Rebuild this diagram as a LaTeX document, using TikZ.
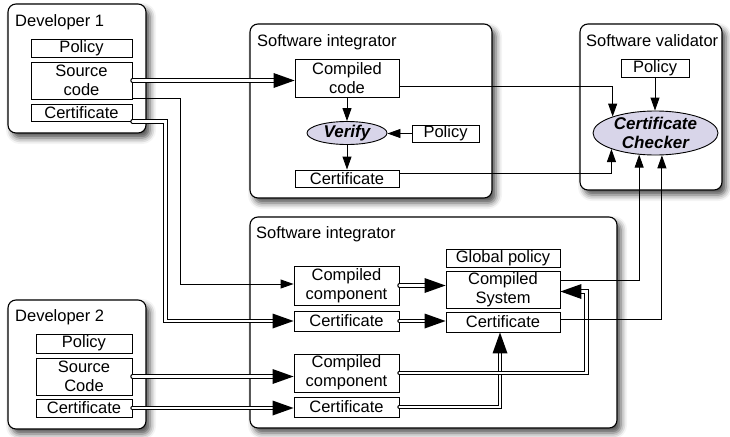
\documentclass[tikz,border=0pt]{standalone}
\usepackage{fontspec}
\setmainfont{Liberation Sans}
\usetikzlibrary{arrows.meta,shapes.geometric,shadows.blur,calc,decorations.markings}
\definecolor{lav}{RGB}{216,213,233}

\tikzset{
  panel/.style={draw=black, line width=1.1pt, rounded corners=8pt, fill=white, inner sep=0pt,
    blur shadow={shadow xshift=4pt, shadow yshift=-5pt, shadow blur radius=6pt, shadow opacity=70}},
  paneltitle/.style={anchor=base west, inner sep=0pt, font=\fontsize{16.5}{19}\selectfont},
  item/.style={draw=black, line width=0.9pt, fill=white, inner sep=0pt, align=center,
    font=\fontsize{16.5}{19}\selectfont},
  oval/.style={ellipse, draw=black, line width=0.9pt, fill=lav, inner xsep=0pt, inner ysep=-3pt,
    align=center, font=\fontsize{17}{19}\selectfont\bfseries\itshape},
  arr/.style={draw=black, line width=0.9pt, -{Triangle[length=13pt,width=9pt]}},
  % hollow double line whose solid head is placed at the path end
  darr/.style={draw=black, line width=1.1pt, double=white, double distance=2.2pt,
    line cap=round, shorten >=19pt,
    postaction={decorate, decoration={markings, mark=at position 1 with
      {\fill[black] (0pt,0pt) -- (-21pt,7.5pt) -- (-21pt,-7.5pt) -- cycle;}}}},
}

\begin{document}
\begin{tikzpicture}[x=1pt,y=-1pt]
\useasboundingbox (0,0) rectangle (730,436);

% containers
\node[panel, minimum width=138pt, minimum height=129pt] (dev1) at (77,68.5) {};
\node[panel, minimum width=242pt, minimum height=174pt] (ti) at (371,111) {};
\node[panel, minimum width=142pt, minimum height=166pt] (val) at (651,107) {};
\node[panel, minimum width=367pt, minimum height=211pt] (li) at (433.5,322.5) {};
\node[panel, minimum width=138pt, minimum height=129pt] (dev2) at (77,364.5) {};

\node[paneltitle] (dev1t) at (15,27) {Developer 1};
\node[paneltitle] (tit) at (257,47) {Software integrator};
\node[paneltitle] (valt) at (586,46) {Software validator};
\node[paneltitle] (lit) at (256,238) {Software integrator};
\node[paneltitle] (dev2t) at (15,321) {Developer 2};

% developer 1
\node[item, minimum width=101pt, minimum height=18pt] (d1pol) at (81.5,48) {Policy};
\node[item, minimum width=101pt, minimum height=37pt] (d1src) at (81.5,80.5) {Source\\code};
\node[item, minimum width=101pt, minimum height=17pt] (d1cert) at (81.5,112.5) {Certificate};

% upper integrator
\node[item, minimum width=104pt, minimum height=38pt] (ti_cc) at (347,78) {Compiled\\code};
\node[oval, minimum width=80pt, minimum height=23pt] (ti_ver) at (347,133) {Verify};
\node[item, minimum width=67pt, minimum height=17pt] (ti_pol) at (445.5,133.5) {Policy};
\node[item, minimum width=104pt, minimum height=17pt] (ti_cert) at (347,178.5) {Certificate};

% validator
\node[item, minimum width=68pt, minimum height=18pt] (v_pol) at (655,68) {Policy};
\node[oval, minimum width=125pt, minimum height=44pt] (v_chk) at (655.5,133) {Certificate\\Checker};

% lower integrator
\node[item, minimum width=105pt, minimum height=39pt] (li_cc1) at (346.5,285.5) {Compiled\\component};
\node[item, minimum width=105pt, minimum height=20pt] (li_c1) at (346.5,321) {Certificate};
\node[item, minimum width=105pt, minimum height=38pt] (li_cc2) at (346.5,373) {Compiled\\component};
\node[item, minimum width=105pt, minimum height=20pt] (li_c2) at (346.5,407) {Certificate};
\node[item, minimum width=114pt, minimum height=18pt] (li_gp) at (503,258) {Global policy};
\node[item, minimum width=114pt, minimum height=37pt] (li_cs) at (503,289.5) {Compiled\\System};
\node[item, minimum width=114pt, minimum height=20pt] (li_cert) at (503,322) {Certificate};

% developer 2
\node[item, minimum width=96pt, minimum height=19pt] (d2pol) at (84,343.5) {Policy};
\node[item, minimum width=96pt, minimum height=37pt] (d2src) at (84,376.5) {Source\\Code};
\node[item, minimum width=96pt, minimum height=18pt] (d2cert) at (84,408) {Certificate};

% developer 1 outputs
\draw[darr] (d1src.east) -- (d1src.east -| ti_cc.west);
\draw[arr] ($(d1src.south east)+(0,-1.5)$) -- ++(48,0) |- ($(li_cc1.west)+(0,-1.5)$);
\draw[darr] (d1cert.south east) -- ++(33,0) |- (li_c1.west);

% upper integrator flow
\draw[arr] (ti_cc) -- (ti_ver);
\draw[arr] (ti_pol.west) -- (ti_pol.west -| ti_ver.east);
\draw[arr] (ti_ver) -- (ti_cert);

% developer 2 outputs
\draw[darr] (d2src.east) -- (d2src.east -| li_cc2.west);
\draw[darr] (d2cert.east) -- (d2cert.east -| li_c2.west);

% lower integrator flow
\draw[darr] (li_cc1.east) -- (li_cc1.east -| li_cs.west);
\draw[darr] (li_c1.east) -- (li_c1.east -| li_cert.west);
\draw[darr] (li_c2.east) -| ($(li_cert.south)+(-3,0)$);
\draw[darr] (li_cc2.east) -- ++(187,0) |- ($(li_cs.east)+(0,2)$);

% into the certificate checker
\draw[arr] (v_pol.south) -- (v_pol.south |- v_chk.north);
\draw[arr] ($(ti_cc.east)+(0,8)$) -| (v_chk.159.25);
\draw[arr] ($(ti_cert.east)+(0,-5.5)$) -| (v_chk.200.75);
\draw[arr] ($(li_cs.east)+(0,-9.5)$) -| (v_chk.233.96);
\draw[arr] ($(li_cert.east)+(0,-3)$) -| (v_chk.286.55);
\end{tikzpicture}
\end{document}
